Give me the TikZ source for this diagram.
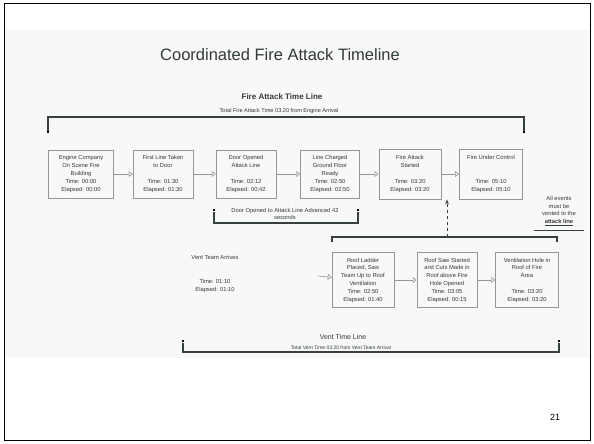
\documentclass[tikz,border=0pt]{standalone}
\usepackage{fontspec}
\setmainfont{Liberation Sans}
\definecolor{slidegray}{RGB}{248,248,246}
\definecolor{linegray}{RGB}{55,65,60}
\definecolor{boxgray}{RGB}{150,150,150}
\definecolor{textgray}{RGB}{50,60,55}
\usetikzlibrary{arrows.meta,positioning}

\begin{document}
\begin{tikzpicture}[x=1pt,y=-1pt,
  tbox/.style={draw=boxgray,line width=0.5pt,align=center,text=textgray,
    font=\fontsize{5.8}{7.8}\selectfont,inner sep=1pt,minimum height=48pt},
  vbox/.style={tbox,minimum height=55pt},
  flow/.style={-{Triangle[open,length=4pt,width=6pt]},boxgray,line width=0.6pt},
  brace/.style={linegray,line width=1.3pt},
  dot/.style={rectangle,fill=black,inner sep=0pt,minimum size=2.6pt}]
  \useasboundingbox (0,0) rectangle (594,444);
  \fill[slidegray] (5,30) rectangle (589,358);
  \draw[black,line width=1pt] (4,4) rectangle (590,440);

  % titles
  \node[text=textgray,font=\fontsize{16.5}{19}\selectfont] (title) at (280,55) {Coordinated Fire Attack Timeline};
  \node[text=textgray,font=\fontsize{8}{9}\selectfont\bfseries] (fatl) at (282,97) {Fire Attack Time Line};
  \node[text=textgray,font=\fontsize{5.6}{7}\selectfont] (fatsub) at (279,111) {Total Fire Attack Time 03:20 from Engine Arrival};

  % fire attack bracket
  \node[dot] (ftl) at (48,132) {};
  \node[dot] (ftr) at (524,132) {};
  \draw[brace] (ftl) -- ++(0,-15) -| (ftr);

  % fire attack boxes
  \node[tbox,minimum width=65pt] (b1) at (81,174) {Engine Company\\On Scene Fire\\Building\\Time: 00:00\\Elapsed: 00:00};
  \node[tbox,minimum width=60pt] (b2) at (163,174) {First Line Taken\\to Door\\~\\Time: 01:30\\Elapsed: 01:30};
  \node[tbox,minimum width=60pt] (b3) at (246,174) {Door Opened\\Attack Line\\~\\Time: 02:12\\Elapsed: 00:42};
  \node[tbox,minimum width=59pt] (b4) at (330,174) {Line Charged\\Ground Floor\\Ready\\Time: 02:50\\Elapsed: 02:50};
  \node[tbox,minimum width=62pt,minimum height=50pt,line width=0.9pt] (b5) at (410,174) {Fire Attack\\Started\\~\\Time: 03:20\\Elapsed: 03:20};
  \node[tbox,minimum width=63pt,minimum height=50pt,line width=0.9pt] (b6) at (491,174) {Fire Under Control\\~\\~\\Time: 05:10\\Elapsed: 05:10};
  \draw[flow] (b1) -- (b2);
  \draw[flow] (b2) -- (b3);
  \draw[flow] (b3) -- (b4);
  \draw[flow] (b4) -- (b5);
  \draw[flow] (b5) -- (b6);

  % door bracket
  \node[dot] (dl) at (214,210) {};
  \node[dot] (dr) at (358,210) {};
  \draw[brace] (dl) -- ++(0,13) -| (dr);
  \node[text=textgray,align=center,font=\fontsize{5.8}{7.8}\selectfont] (dtxt) at (285,214) {Door Opened to Attack Line Advanced 42\\seconds};

  % note
  \node[tbox,minimum width=50pt,minimum height=38pt,draw=none] (note) at (559,211) {All events\\must be\\vented to the\\\underline{\bfseries attack line}};
  \draw[linegray,line width=1.4pt] (note.south west) -- (note.south east);

  % vent bracket
  \coordinate (vl) at (332,242);
  \coordinate (vr) at (557,242);
  \coordinate (vm) at (447,237);
  \draw[brace] (vl) |- (vm) -| (vr);
  \draw[brace,line width=1pt,dashed,-{Stealth[length=5pt]}] (vm) -- (b5.south -| vm);

  % vent boxes
  \node[text=textgray,align=center,font=\fontsize{5.8}{7.8}\selectfont] (v0) at (215,274) {Vent Team Arrives\\~\\~\\Time: 01:10\\Elapsed: 01:10};
  \node[vbox,minimum width=62pt] (va) at (363,280) {Roof Ladder\\Placed, Saw\\Team Up to Roof\\Ventilation\\Time: 02:50\\Elapsed: 01:40};
  \node[vbox,minimum width=60pt] (vb) at (447,280) {Roof Saw Started\\and Cuts Made in\\Roof above Fire\\Hole Opened\\Time: 03:05\\Elapsed: 00:15};
  \node[vbox,minimum width=63pt] (vc) at (527,280) {Ventilation Hole in\\Roof of Fire\\Area\\~\\Time: 03:20\\Elapsed: 03:20};
  \coordinate (vin) at (318,276);
  \draw[flow] (vin) -- (va);
  \draw[flow] (va) -- (vb);
  \draw[flow] (vb) -- (vc);

  % vent time line
  \node[dot] (vtl) at (183,341) {};
  \node[dot] (vtr) at (559,341) {};
  \draw[brace] (vtl) -- ++(0,11) -| (vtr);
  \node[text=textgray,font=\fontsize{7}{8}\selectfont] (vtt) at (343,337) {Vent Time Line};
  \node[text=textgray,font=\fontsize{5}{6}\selectfont] (vtsub) at (341,348) {Total Vent Time 03:20 from Vent Team Arrival};

  \node[font=\fontsize{9}{10}\selectfont] (page) at (555,417) {21};
\end{tikzpicture}
\end{document}
